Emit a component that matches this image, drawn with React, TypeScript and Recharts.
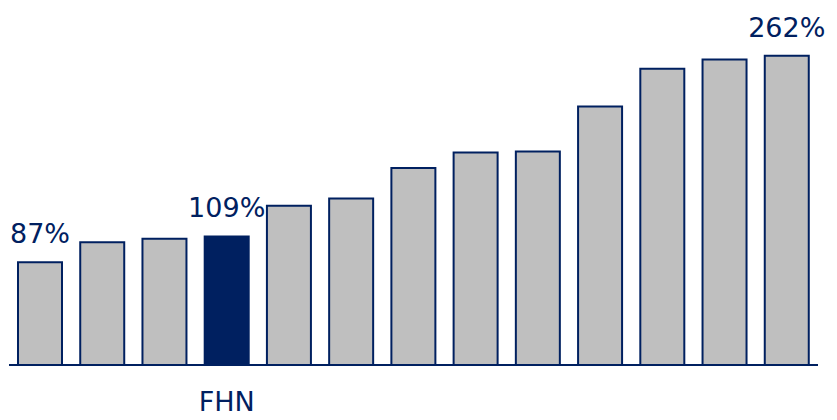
import { BarChart, Bar, XAxis, YAxis, Cell, LabelList } from 'recharts'

const categories = ['A', 'B', 'C', 'FHN', 'E', 'F', 'G', 'H', 'I', 'J', 'K', 'L', 'M']
const values = [87, 104, 107, 109, 135, 141, 167, 180, 181, 219, 251, 259, 262]
const labelledIndexes = [0, 3, 12]
const highlighted = 'FHN'

const NAVY = '#002060'
const GRAY = '#BFBFBF'
const FONT = '"DejaVu Sans", sans-serif'

const data = categories.map((name, i) => ({ name, value: values[i] }))

const renderLabel = (props: any) => {
  const { x, y, width, value, index } = props
  if (!labelledIndexes.includes(index)) return null
  return (
    <text x={x + width / 2} y={y - 19} textAnchor="middle" fill={NAVY} fontSize={27} fontFamily={FONT}>
      {value}%
    </text>
  )
}

const renderTick = (props: any) => {
  const { x, y, payload } = props
  if (payload.value !== highlighted) return null
  return (
    <text x={x} y={y + 38} textAnchor="middle" fill={NAVY} fontSize={27} fontFamily={FONT}>
      {payload.value}
    </text>
  )
}

export default function App() {
  return (
    <div style={{ position: 'absolute', left: 0, top: 0, background: '#fff' }}>
      <BarChart width={837} height={420} data={data} margin={{ top: 11, right: 19, bottom: 25, left: 9 }} barSize={44}>
        <XAxis dataKey="name" axisLine={{ stroke: NAVY, strokeWidth: 2 }} tickLine={false} tick={renderTick} height={30} interval={0} />
        <YAxis hide domain={[0, 300]} />
        <Bar dataKey="value" stroke={NAVY} strokeWidth={2} isAnimationActive={false}>
          {data.map((d, i) => (
            <Cell key={`cell-${i}`} fill={d.name === highlighted ? NAVY : GRAY} />
          ))}
          <LabelList dataKey="value" content={renderLabel} />
        </Bar>
      </BarChart>
    </div>
  )
}
